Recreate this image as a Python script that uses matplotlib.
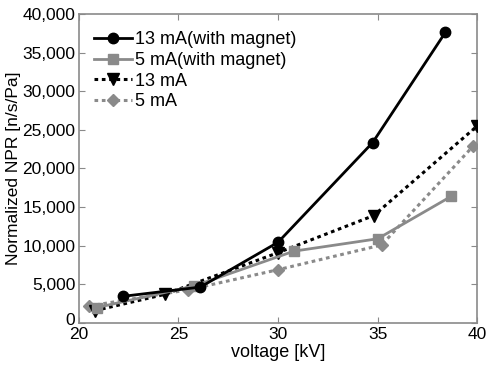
import matplotlib
matplotlib.use("Agg")
import matplotlib.pyplot as plt
import matplotlib.transforms as mtransforms
from matplotlib.ticker import FuncFormatter

plt.rcParams['font.family'] = ['Liberation Sans', 'DejaVu Sans']

# Normalized NPR versus tube voltage
v_13_mag = [22.2, 26.1, 30.0, 34.75, 38.4]
npr_13_mag = [3450, 4650, 10450, 23350, 37600]

v_5_mag = [20.9, 25.8, 30.8, 35.0, 38.7]
npr_5_mag = [2000, 4800, 9300, 10900, 16400]

v_13 = [20.8, 24.3, 30.0, 34.8, 40.0]
npr_13 = [1600, 3700, 9100, 13900, 25500]

v_5 = [20.5, 25.5, 30.0, 35.2, 39.8]
npr_5 = [2200, 4300, 6900, 10100, 22900]

x_ticks = [20, 25, 30, 35, 40]
y_ticks = [0, 5000, 10000, 15000, 20000, 25000, 30000, 35000, 40000]

gray = '#8a8a8a'

fig = plt.figure(figsize=(4.93, 3.65), dpi=100)
ax = fig.add_axes([0.160, 0.115, 0.808, 0.847])

ax.plot(v_13_mag, npr_13_mag, color='black', lw=2, marker='o', ms=7.5,
        label='13 mA(with magnet)', zorder=5)
ax.plot(v_5_mag, npr_5_mag, color=gray, lw=2, marker='s', ms=7,
        label='5 mA(with magnet)', zorder=4)
ax.plot(v_13, npr_13, color='black', lw=2.2, ls=(0, (1.2, 1.2)), marker='v', ms=8,
        label='13 mA', zorder=3)
ax.plot(v_5, npr_5, color=gray, lw=2.2, ls=(0, (1.2, 1.2)), marker='D', ms=6.5,
        label='5 mA', zorder=2)

ax.set_xlim(20, 40)
ax.set_ylim(0, 40000)
ax.set_xticks(x_ticks)
ax.set_yticks(y_ticks)
ax.yaxis.set_major_formatter(FuncFormatter(lambda v, p: f'{int(v):,}'))
ax.tick_params(direction='in', top=True, right=True, length=4, color=gray,
               labelsize=12.5, pad=3)
ax.tick_params(axis='y', pad=2.5)
for s in ax.spines.values():
    s.set_color(gray)
    s.set_linewidth(1.2)

# lift the "0" label slightly so it clears the "20" below it
zero_label = ax.yaxis.get_major_ticks()[0].label1
zero_label.set_transform(zero_label.get_transform() +
                         mtransforms.ScaledTranslation(0, 3 / 72, fig.dpi_scale_trans))

ax.set_xlabel('voltage [kV]', fontsize=13, labelpad=1)
ax.set_ylabel('Normalized NPR [n/s/Pa]', fontsize=12.5)
ax.yaxis.set_label_coords(-0.145, 0.5)

ax.legend(loc='upper left', frameon=False, fontsize=13, handlelength=2.15,
          handletextpad=0.12, labelspacing=0.2, borderaxespad=0.0,
          borderpad=0.0, bbox_to_anchor=(0.037, 0.943))

fig.savefig('out.png', dpi=100, facecolor='white')
